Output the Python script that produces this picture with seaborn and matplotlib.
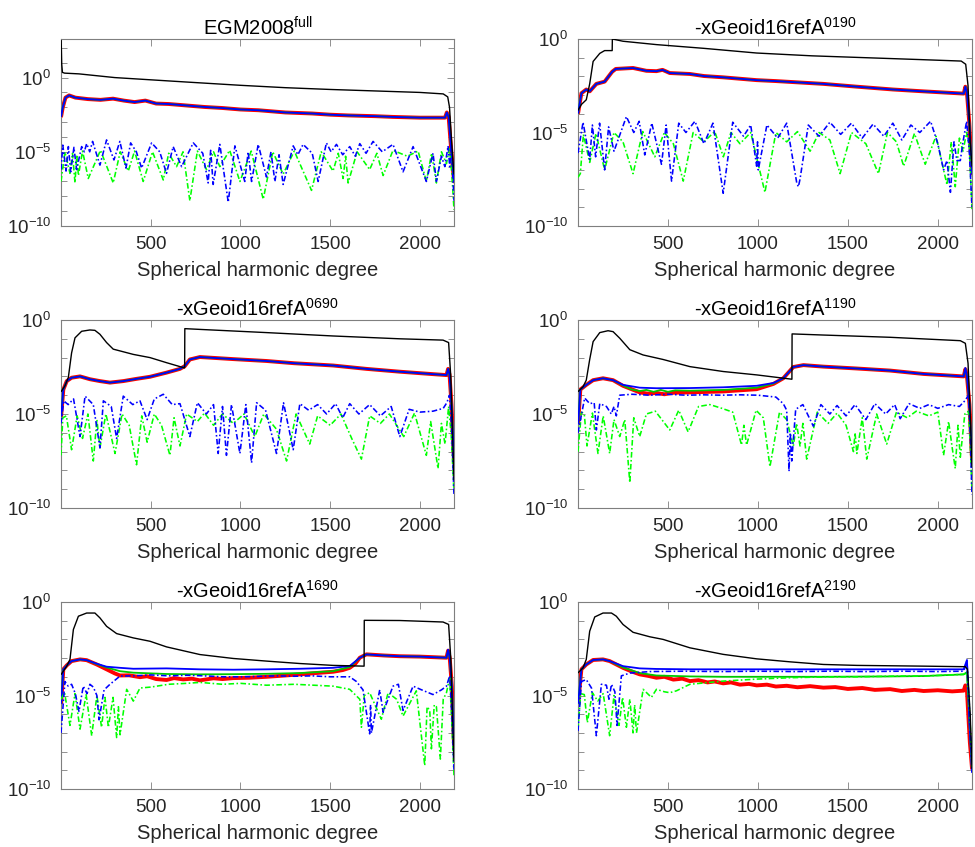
import numpy as np
import matplotlib
matplotlib.use("Agg")
import matplotlib.pyplot as plt
import matplotlib.ticker as mticker
import seaborn as sns

sns.set_style("ticks")
plt.rcParams.update({'font.size': 13})
plt.rcParams['font.family'] = ['Liberation Sans', 'DejaVu Sans']
plt.rcParams['mathtext.fontset'] = 'custom'
plt.rcParams['mathtext.rm'] = 'Liberation Sans'
plt.rcParams['mathtext.it'] = 'Liberation Sans:italic'
plt.rcParams['mathtext.bf'] = 'Liberation Sans:bold'

# (degree, log10 of amplitude)
titles = [r'EGM2008$^{\mathrm{full}}$',
          r'-xGeoid16refA$^{\mathrm{0190}}$',
          r'-xGeoid16refA$^{\mathrm{0690}}$',
          r'-xGeoid16refA$^{\mathrm{1190}}$',
          r'-xGeoid16refA$^{\mathrm{1690}}$',
          r'-xGeoid16refA$^{\mathrm{2190}}$']
x_ticks = [500, 1000, 1500, 2000]
y_ticks = [1e-10, 1e-5, 1e0]
y_top = [10 ** 2.6, 1, 1, 1, 1, 1]

# ---- panel 1: EGM2008 full
p1_black = [(1, 2.5), (4, 0.9), (8, 0.35), (20, 0.3), (100, 0.25), (300, 0.0), (500, -0.15), (700, -0.3),
            (1000, -0.52), (1250, -0.68), (1500, -0.8), (1750, -0.9), (2000, -1.0), (2130, -1.1),
            (2155, -1.3), (2165, -2.0), (2175, -4.0), (2185, -5.8), (2190, -6.5)]
p1_solid = [(1, -2.6), (10, -2.0), (25, -1.35), (45, -1.2), (80, -1.35), (150, -1.45), (220, -1.5),
            (290, -1.42), (350, -1.55), (410, -1.65), (470, -1.55), (530, -1.75), (600, -1.78),
            (700, -1.88), (800, -1.98), (900, -2.05), (1000, -2.15), (1100, -2.2), (1250, -2.35),
            (1400, -2.42), (1500, -2.5), (1600, -2.55), (1750, -2.6), (1850, -2.65), (2000, -2.7),
            (2140, -2.7), (2150, -2.35), (2160, -2.65), (2172, -4.5), (2190, -7.0)]
p1_blue_dd = [(0, -6.2), (10, -4.55), (28, -6.3), (41, -4.65), (54, -6.35), (72, -4.7), (87, -6.2), (115, -4.65),
              (130, -5.0), (143, -4.45), (160, -5.0), (176, -4.3), (217, -5.9), (254, -4.2), (295, -5.55),
              (328, -4.3), (362, -6.1), (388, -4.4), (420, -5.0), (449, -6.1), (505, -4.4), (550, -5.0),
              (588, -6.45), (625, -4.65), (672, -6.0), (737, -4.4), (790, -5.1), (820, -7.1), (834, -4.9),
              (848, -7.2), (885, -4.5), (932, -8.4), (969, -4.6), (1024, -7.0), (1043, -5.0), (1062, -7.0),
              (1099, -4.5), (1145, -6.7), (1170, -5.0), (1192, -7.0), (1215, -5.2), (1238, -7.2), (1294, -4.6),
              (1320, -5.2), (1349, -4.5), (1400, -5.1), (1433, -7.0), (1479, -4.4), (1505, -5.0), (1535, -4.5),
              (1570, -5.2), (1609, -4.65), (1640, -5.3), (1665, -4.45), (1700, -5.1), (1739, -4.3), (1790, -5.0),
              (1850, -4.5), (1906, -6.35), (1962, -4.65), (2036, -7.0), (2073, -5.1), (2092, -7.0), (2120, -5.3),
              (2139, -6.0), (2157, -4.6), (2166, -6.0), (2175, -4.5), (2190, -8.3)]
p1_green_dd = [(0, -7.0), (22, -5.0), (50, -6.45), (64, -5.1), (78, -7.1), (88, -5.2), (97, -6.6), (120, -4.95),
               (152, -6.8), (220, -4.9), (291, -7.1), (330, -5.0), (375, -6.3), (410, -4.95), (458, -7.0),
               (510, -5.0), (570, -6.9), (600, -5.1), (644, -6.0), (680, -5.0), (718, -8.3), (760, -4.95),
               (811, -6.2), (850, -5.0), (885, -6.0), (940, -4.9), (997, -7.0), (1060, -4.95), (1127, -8.2),
               (1180, -5.0), (1238, -6.5), (1300, -4.95), (1396, -7.6), (1450, -5.0), (1516, -6.3), (1545, -5.1),
               (1572, -6.8), (1586, -5.3), (1600, -7.1), (1650, -5.0), (1720, -6.2), (1760, -5.1), (1795, -6.6),
               (1850, -4.9), (1930, -5.3), (1990, -4.95), (2036, -7.0), (2065, -5.1), (2092, -7.1), (2120, -5.0),
               (2148, -5.8), (2165, -4.7), (2178, -6.5), (2190, -8.9)]

# ---- panel 2: -xGeoid16refA 0190
p2_black = [(1, -3.8), (19, -3.5), (46, -3.25), (65, -2.4), (84, -1.2), (121, -0.77), (148, -0.62), (190, -0.62),
            (191, 0.0), (250, -0.12), (436, -0.3), (700, -0.5), (993, -0.75), (1300, -0.9), (1600, -1.0),
            (1900, -1.1), (2130, -1.18), (2155, -1.35), (2168, -2.5), (2180, -5.5), (2190, -6.8)]
p2_solid = [(1, -3.95), (19, -2.9), (46, -2.7), (65, -2.8), (102, -2.4), (148, -2.28), (190, -1.75), (210, -1.6),
            (306, -1.55), (380, -1.7), (436, -1.72), (470, -1.65), (510, -1.82), (622, -1.87), (700, -1.98),
            (807, -2.05), (993, -2.2), (1100, -2.25), (1364, -2.4), (1550, -2.55), (1750, -2.7), (1921, -2.8),
            (2144, -2.92), (2153, -2.55), (2162, -2.9), (2175, -4.5), (2190, -7.2)]
p2_blue_dd = [(0, -6.1), (28, -4.45), (65, -6.45), (80, -4.6), (98, -6.3), (120, -4.5), (148, -7.0), (170, -4.7),
              (200, -6.0), (269, -4.15), (310, -5.0), (340, -4.4), (371, -6.2), (410, -4.5), (464, -6.7),
              (490, -4.6), (520, -7.6), (560, -4.5), (600, -5.0), (650, -4.4), (700, -5.6), (750, -4.5),
              (807, -8.25), (860, -4.45), (920, -5.2), (960, -4.6), (993, -6.8), (998, -5.5), (1002, -7.0),
              (1050, -4.6), (1110, -5.3), (1160, -4.5), (1216, -7.7), (1225, -7.9), (1234, -7.5), (1280, -4.6),
              (1340, -5.2), (1400, -4.45), (1460, -5.1), (1520, -4.5), (1580, -5.3), (1640, -4.55), (1700, -5.2),
              (1750, -4.5), (1800, -5.4), (1850, -4.6), (1900, -5.0), (1960, -4.4), (2000, -5.6), (2032, -7.0),
              (2051, -6.5), (2070, -8.2), (2090, -5.5), (2106, -6.5), (2125, -6.5), (2140, -5.5), (2160, -4.4),
              (2175, -6.0), (2190, -9.0)]
p2_green_dd = [(0, -7.4), (13, -7.2), (30, -5.1), (65, -6.6), (100, -5.05), (148, -7.0), (200, -5.0), (250, -5.5),
               (306, -7.2), (360, -4.95), (427, -6.3), (480, -5.0), (530, -5.6), (585, -7.6), (640, -5.0),
               (700, -5.5), (760, -4.95), (808, -6.3), (850, -5.0), (900, -5.6), (960, -5.0), (1039, -8.2),
               (1100, -5.0), (1160, -5.5), (1220, -4.95), (1290, -6.0), (1340, -5.0), (1400, -5.4), (1457, -7.2),
               (1520, -5.0), (1600, -5.6), (1670, -7.2), (1720, -5.0), (1770, -5.5), (1810, -6.8), (1870, -5.05),
               (1930, -6.7), (1990, -5.2), (2051, -7.8), (2075, -5.5), (2097, -7.9), (2120, -5.3), (2140, -6.0),
               (2160, -5.0), (2175, -5.8), (2190, -9.1)]

# ---- panel 3: -xGeoid16refA 0690
p3_black = [(1, -3.8), (22, -3.5), (41, -3.05), (59, -1.75), (78, -0.95), (115, -0.6), (161, -0.53), (189, -0.55),
            (217, -0.76), (254, -1.2), (291, -1.55), (403, -1.83), (496, -2.0), (588, -2.27), (663, -2.48),
            (689, -2.55), (690, -0.46), (774, -0.5), (1145, -0.67), (1516, -0.85), (1888, -1.0), (2129, -1.07),
            (2160, -1.2), (2172, -3.0), (2190, -8.5)]
p3_solid = [(1, -5.1), (13, -3.7), (32, -3.25), (59, -3.07), (106, -3.0), (161, -3.15), (217, -3.25), (273, -3.33),
            (347, -3.25), (421, -3.13), (496, -3.02), (588, -2.8), (663, -2.6), (690, -2.45), (718, -2.1),
            (774, -1.97), (960, -2.08), (1145, -2.18), (1300, -2.3), (1516, -2.42), (1702, -2.6), (1888, -2.75),
            (2073, -2.88), (2148, -2.93), (2157, -2.6), (2165, -2.9), (2176, -4.5), (2190, -7.4)]
p3_blue_dd = [(0, -5.5), (15, -4.3), (40, -4.5), (70, -4.2), (106, -6.2), (134, -4.05), (180, -4.5), (217, -6.8),
              (236, -4.3), (280, -4.6), (310, -6.3), (347, -4.05), (400, -4.5), (440, -4.3), (480, -5.3),
              (520, -4.2), (570, -3.95), (620, -4.5), (663, -4.45), (718, -6.2), (760, -4.4), (810, -5.0),
              (850, -4.5), (876, -7.1), (900, -4.6), (922, -7.2), (950, -4.5), (997, -7.1), (1030, -4.5),
              (1062, -7.6), (1090, -4.4), (1140, -4.8), (1201, -7.1), (1240, -4.4), (1294, -6.9), (1331, -4.45),
              (1380, -4.8), (1430, -4.5), (1480, -5.0), (1530, -4.45), (1570, -5.2), (1609, -4.45), (1660, -5.0),
              (1720, -4.5), (1780, -5.1), (1840, -4.6), (1888, -6.2), (1940, -4.75), (2000, -4.9), (2073, -4.85),
              (2130, -4.7), (2150, -4.4), (2165, -4.0), (2178, -6.0), (2190, -9.3)]
p3_green_dd = [(0, -7.2), (10, -5.2), (30, -5.1), (59, -6.9), (90, -5.1), (120, -6.3), (150, -5.0), (180, -7.5),
               (200, -5.3), (217, -6.8), (250, -5.0), (275, -6.0), (301, -7.1), (340, -5.0), (380, -5.6),
               (421, -7.7), (450, -5.1), (480, -6.5), (520, -5.0), (560, -5.6), (607, -7.2), (630, -5.2),
               (663, -6.7), (700, -5.0), (760, -5.4), (800, -4.95), (850, -5.6), (900, -5.0), (960, -5.5),
               (1020, -5.0), (1080, -6.2), (1130, -5.0), (1200, -5.8), (1257, -7.5), (1310, -5.0), (1386, -6.6),
               (1430, -5.1), (1500, -5.6), (1560, -5.0), (1620, -6.3), (1674, -7.4), (1720, -5.1), (1780, -5.5),
               (1830, -5.0), (1910, -6.2), (1970, -4.95), (2036, -7.2), (2060, -5.4), (2101, -7.9), (2120, -5.5),
               (2140, -6.6), (2160, -4.6), (2175, -6.2), (2190, -9.2)]

# ---- panel 4: -xGeoid16refA 1190
p4_black = [(1, -3.8), (28, -3.55), (46, -3.2), (65, -2.1), (84, -1.15), (121, -0.67), (167, -0.57), (195, -0.62),
            (232, -0.97), (288, -1.58), (362, -1.86), (473, -2.1), (622, -2.48), (807, -2.74), (993, -2.92),
            (1189, -3.15), (1190, -0.74), (1364, -0.8), (1735, -0.92), (2125, -1.1), (2153, -1.24),
            (2168, -2.3), (2180, -5.0), (2190, -7.8)]
p4_red = [(1, -5.5), (13, -3.7), (46, -3.45), (84, -3.2), (139, -3.1), (195, -3.2), (250, -3.5), (343, -3.85),
          (390, -3.92), (436, -3.88), (480, -3.95), (530, -3.87), (622, -3.85), (807, -3.8), (993, -3.68),
          (1086, -3.4), (1141, -3.1), (1197, -2.5), (1253, -2.4), (1364, -2.48), (1550, -2.58), (1735, -2.69),
          (1921, -2.87), (2144, -3.0), (2153, -2.62), (2162, -3.0), (2176, -4.5), (2190, -7.4)]
p4_blue = [(1, -5.5), (13, -3.7), (46, -3.45), (84, -3.2), (139, -3.1), (195, -3.2), (250, -3.45), (343, -3.6),
           (436, -3.63), (622, -3.62), (807, -3.58), (993, -3.5), (1086, -3.35), (1141, -3.1), (1197, -2.5),
           (1253, -2.4), (1364, -2.48), (1550, -2.58), (1735, -2.69), (1921, -2.87), (2144, -3.0), (2153, -2.55),
           (2162, -3.0), (2176, -4.5), (2190, -7.6)]
p4_green = [(1, -5.5), (13, -3.7), (46, -3.45), (84, -3.2), (139, -3.1), (195, -3.2), (250, -3.48), (300, -3.7),
            (343, -3.78), (380, -3.72), (420, -3.82), (460, -3.72), (500, -3.82), (540, -3.74), (622, -3.76),
            (807, -3.72), (993, -3.6), (1086, -3.38), (1141, -3.1), (1197, -2.5), (1253, -2.4), (1364, -2.48),
            (1550, -2.58), (1735, -2.69), (1921, -2.87), (2144, -3.0), (2153, -2.6), (2162, -3.0), (2176, -4.5),
            (2190, -7.5)]
p4_blue_dd = [(0, -6.0), (37, -4.15), (65, -4.45), (90, -4.4), (102, -5.85), (121, -4.45), (158, -4.6), (185, -5.0),
              (200, -4.6), (213, -5.1), (232, -4.0), (300, -3.95), (400, -4.0), (500, -3.95), (600, -4.0),
              (700, -3.98), (800, -4.0), (900, -3.98), (1000, -4.0), (1100, -4.1), (1141, -4.45), (1160, -4.8),
              (1173, -8.05), (1180, -6.0), (1188, -7.5), (1210, -4.75), (1250, -4.5), (1308, -5.65), (1350, -4.5),
              (1400, -5.0), (1440, -4.55), (1490, -5.1), (1540, -4.5), (1600, -5.3), (1650, -4.45), (1710, -5.0),
              (1760, -4.5), (1791, -5.25), (1840, -4.45), (1900, -4.7), (1950, -4.5), (2000, -4.7), (2060, -4.5),
              (2120, -4.6), (2150, -4.3), (2171, -4.0), (2180, -6.0), (2190, -9.3)]
p4_green_dd = [(0, -7.0), (19, -4.9), (35, -5.0), (50, -6.7), (80, -4.95), (111, -7.1), (140, -5.1), (176, -7.1),
               (200, -5.3), (232, -6.2), (260, -5.3), (288, -8.65), (310, -5.2), (343, -6.2), (380, -5.0),
               (430, -4.85), (510, -5.85), (560, -4.8), (612, -5.95), (670, -4.6), (733, -4.5), (800, -4.7),
               (860, -4.9), (909, -6.65), (922, -5.6), (937, -6.65), (990, -4.8), (1030, -5.2), (1067, -7.8),
               (1120, -4.9), (1160, -5.3), (1197, -6.7), (1215, -5.5), (1234, -6.7), (1250, -5.5), (1271, -7.4),
               (1330, -4.9), (1390, -5.5), (1440, -4.95), (1490, -5.6), (1531, -7.0), (1540, -6.0), (1550, -7.1),
               (1580, -5.2), (1605, -7.4), (1660, -5.0), (1716, -6.6), (1770, -4.9), (1830, -5.2), (1880, -4.85),
               (1950, -5.1), (2000, -4.9), (2032, -7.2), (2060, -5.4), (2080, -6.8), (2097, -7.9), (2112, -5.6),
               (2125, -7.3), (2150, -5.0), (2170, -4.85), (2180, -6.5), (2190, -9.2)]

# ---- panel 5: -xGeoid16refA 1690
p5_black = [(1, -3.87), (32, -3.43), (50, -3.07), (69, -1.47), (97, -0.76), (143, -0.59), (189, -0.59),
            (217, -0.85), (254, -1.3), (310, -1.69), (403, -1.92), (496, -2.1), (588, -2.4), (774, -2.81),
            (960, -3.02), (1145, -3.16), (1331, -3.29), (1516, -3.39), (1689, -3.43), (1690, -0.98),
            (1888, -0.99), (2129, -1.07), (2160, -1.2), (2172, -3.0), (2190, -8.5)]
p5_red = [(1, -5.4), (13, -3.6), (32, -3.39), (59, -3.16), (106, -3.07), (143, -3.11), (199, -3.34), (254, -3.6),
          (300, -3.82), (329, -3.93), (380, -3.92), (440, -4.02), (480, -3.97), (530, -4.12), (588, -4.17),
          (630, -4.07), (681, -4.14), (730, -4.1), (774, -4.19), (850, -4.08), (900, -4.12), (960, -4.07),
          (1050, -4.05), (1145, -4.0), (1250, -3.93), (1331, -3.87), (1420, -3.8), (1516, -3.73), (1570, -3.64),
          (1609, -3.52), (1640, -3.3), (1665, -2.98), (1702, -2.8), (1800, -2.86), (1888, -2.9), (2000, -2.92),
          (2148, -2.98), (2157, -2.6), (2166, -2.98), (2178, -4.5), (2190, -7.6)]
p5_blue = [(1, -5.4), (13, -3.6), (32, -3.39), (59, -3.16), (106, -3.07), (143, -3.11), (199, -3.3), (254, -3.46),
           (329, -3.52), (403, -3.57), (588, -3.55), (774, -3.6), (960, -3.62), (1145, -3.6), (1331, -3.57),
           (1516, -3.52), (1609, -3.42), (1665, -2.98), (1702, -2.8), (1800, -2.86), (1888, -2.9), (2000, -2.92),
           (2148, -2.98), (2157, -2.55), (2166, -2.98), (2178, -4.5), (2190, -7.8)]
p5_green = [(1, -5.4), (13, -3.6), (32, -3.39), (59, -3.16), (106, -3.07), (143, -3.11), (199, -3.32), (254, -3.5),
            (329, -3.7), (403, -3.78), (588, -3.85), (774, -3.87), (960, -3.86), (1145, -3.84), (1331, -3.8),
            (1516, -3.7), (1609, -3.48), (1665, -2.98), (1702, -2.8), (1800, -2.86), (1888, -2.9), (2000, -2.92),
            (2148, -2.98), (2157, -2.6), (2166, -2.98), (2178, -4.5), (2190, -7.7)]
p5_blue_dd = [(0, -7.0), (22, -4.25), (40, -4.5), (59, -4.4), (80, -4.9), (100, -5.85), (124, -4.5), (145, -4.9),
              (161, -4.4), (180, -4.55), (200, -5.0), (212, -6.3), (240, -4.7), (273, -4.4), (329, -3.96),
              (400, -3.95), (500, -3.9), (600, -3.95), (700, -3.92), (800, -3.95), (900, -4.0), (1000, -4.0),
              (1100, -3.98), (1200, -3.95), (1300, -3.97), (1400, -3.95), (1500, -4.0), (1609, -4.0), (1646, -4.25),
              (1683, -4.7), (1720, -7.05), (1725, -5.5), (1730, -7.0), (1776, -4.7), (1795, -5.9), (1850, -4.5),
              (1880, -4.4), (1906, -5.8), (1962, -4.5), (2010, -4.7), (2073, -4.95), (2120, -4.7), (2148, -4.5),
              (2166, -3.95), (2178, -6.0), (2190, -9.0)]
p5_green_dd = [(0, -5.2), (20, -4.85), (50, -6.6), (78, -4.9), (106, -6.8), (140, -4.95), (171, -7.15), (200, -5.0),
               (226, -6.7), (245, -5.1), (264, -6.7), (290, -5.1), (310, -7.25), (320, -5.6), (329, -7.1),
               (366, -4.67), (403, -5.3), (440, -4.6), (500, -4.55), (600, -4.4), (700, -4.35), (774, -4.3),
               (900, -4.4), (1000, -4.35), (1145, -4.45), (1300, -4.4), (1516, -4.5), (1609, -4.67), (1665, -5.2),
               (1674, -6.7), (1690, -5.0), (1720, -4.85), (1785, -6.27), (1823, -4.85), (1870, -5.2), (1906, -6.1),
               (1980, -4.75), (2027, -8.75), (2040, -5.6), (2055, -5.8), (2064, -7.85), (2080, -5.5), (2092, -5.6),
               (2114, -8.4), (2130, -5.2), (2148, -4.85), (2166, -4.05), (2178, -6.5), (2190, -9.3)]

# ---- panel 6: -xGeoid16refA 2190
p6_black = [(1, -3.78), (28, -3.52), (46, -3.07), (65, -1.56), (93, -0.8), (139, -0.59), (186, -0.59), (213, -0.76),
            (250, -1.2), (306, -1.62), (399, -1.86), (473, -2.0), (622, -2.45), (807, -2.8), (993, -3.04),
            (1179, -3.2), (1364, -3.34), (1550, -3.39), (1921, -3.43), (2153, -3.46), (2165, -3.6), (2180, -6.0),
            (2190, -8.9)]
p6_red = [(1, -5.4), (19, -3.6), (46, -3.34), (84, -3.1), (139, -3.07), (176, -3.16), (250, -3.52), (300, -3.72),
          (343, -3.87), (390, -3.95), (436, -4.05), (480, -4.0), (530, -4.15), (580, -4.1), (622, -4.23),
          (670, -4.18), (720, -4.3), (760, -4.25), (807, -4.35), (850, -4.3), (900, -4.42), (950, -4.38),
          (993, -4.46), (1050, -4.42), (1100, -4.52), (1160, -4.48), (1220, -4.56), (1290, -4.5), (1364, -4.58),
          (1430, -4.55), (1500, -4.65), (1580, -4.6), (1650, -4.7), (1735, -4.66), (1800, -4.76), (1870, -4.7),
          (1921, -4.76), (2000, -4.72), (2080, -4.78), (2144, -4.74), (2153, -4.46), (2162, -4.76), (2178, -7.5),
          (2190, -8.9)]
p6_blue = [(1, -5.4), (19, -3.6), (46, -3.34), (84, -3.1), (139, -3.07), (176, -3.16), (250, -3.43), (343, -3.55),
           (436, -3.58), (622, -3.6), (807, -3.6), (993, -3.6), (1364, -3.6), (1735, -3.6), (1921, -3.6),
           (2144, -3.6), (2162, -3.1), (2176, -6.5), (2190, -9.1)]
p6_green = [(1, -5.4), (19, -3.6), (46, -3.34), (84, -3.1), (139, -3.07), (176, -3.16), (250, -3.5), (343, -3.8),
            (436, -3.93), (622, -3.98), (807, -4.0), (993, -4.0), (1364, -4.0), (1735, -3.98), (1921, -3.96),
            (2144, -3.87), (2162, -3.75), (2176, -6.5), (2190, -9.0)]
p6_blue_dd = [(0, -6.9), (19, -4.25), (46, -4.15), (75, -4.6), (102, -7.15), (130, -4.4), (158, -4.45), (172, -5.2),
              (186, -4.4), (205, -4.8), (217, -6.6), (241, -3.95), (288, -3.8), (400, -3.72), (600, -3.7),
              (800, -3.72), (1000, -3.7), (1200, -3.72), (1400, -3.7), (1600, -3.72), (1800, -3.7), (2000, -3.72),
              (2144, -3.7), (2162, -3.15), (2175, -5.5), (2190, -9.1)]
p6_green_dd = [(0, -6.8), (15, -4.9), (35, -4.95), (52, -6.45), (80, -4.85), (110, -5.3), (140, -4.9), (176, -7.15),
               (200, -5.0), (228, -6.6), (248, -5.1), (269, -6.7), (288, -5.2), (306, -7.0), (315, -5.5),
               (325, -7.0), (362, -4.67), (408, -5.1), (436, -4.67), (480, -4.8), (510, -4.85), (547, -4.75),
               (622, -4.4), (807, -4.23), (1000, -4.12), (1179, -4.05), (1400, -4.0), (1550, -4.0), (1800, -3.96),
               (1921, -3.96), (2144, -3.87), (2162, -3.78), (2178, -6.0), (2190, -8.9)]

panels = [
    (p1_black, p1_solid, p1_solid, p1_solid, p1_blue_dd, p1_green_dd),
    (p2_black, p2_solid, p2_solid, p2_solid, p2_blue_dd, p2_green_dd),
    (p3_black, p3_solid, p3_solid, p3_solid, p3_blue_dd, p3_green_dd),
    (p4_black, p4_red, p4_blue, p4_green, p4_blue_dd, p4_green_dd),
    (p5_black, p5_red, p5_blue, p5_green, p5_blue_dd, p5_green_dd),
    (p6_black, p6_red, p6_blue, p6_green, p6_blue_dd, p6_green_dd),
]

# axes boxes in pixels (left, top, right, bottom) on a 975x847 canvas
W, H = 975, 847
boxes = [(61, 39, 454, 226), (578, 39, 972, 226),
         (61, 320, 454, 508), (578, 320, 972, 508),
         (61, 602, 454, 789), (578, 602, 972, 789)]

dashdot = (0, (3.5, 1.5, 1, 1.5))
edge = '#7f7f7f'
txt = '#262626'


def draw(ax, pts, color, lw, ls, z):
    d = np.array(pts, dtype=float)
    sns.lineplot(x=d[:, 0], y=10 ** d[:, 1], ax=ax, color=color, linewidth=lw,
                 linestyle=ls, estimator=None, sort=False, zorder=z)


fig = plt.figure(figsize=(W / 100, H / 100), dpi=100)
for i, (black, red, blue, green, blue_dd, green_dd) in enumerate(panels):
    l, t, r, b = boxes[i]
    ax = fig.add_axes([l / W, 1 - b / H, (r - l) / W, (b - t) / H])
    ax.set_yscale('log')
    draw(ax, red, '#ff0000', 2.8, '-', 2)
    draw(ax, green, '#00c800', 1.3, '-', 3)
    draw(ax, blue, '#0000ff', 1.3, '-', 4)
    draw(ax, green_dd, '#00ff00', 1.15, dashdot, 5)
    draw(ax, blue_dd, '#0000ff', 1.15, dashdot, 6)
    draw(ax, black, '#000000', 1.0, '-', 7)

    ax.set_xlim(0, 2190)
    ax.set_ylim(1e-10, y_top[i])
    ax.set_xticks(x_ticks)
    ax.yaxis.set_major_locator(mticker.FixedLocator(y_ticks))
    ax.yaxis.set_major_formatter(mticker.LogFormatterSciNotation())
    ax.yaxis.set_minor_locator(mticker.LogLocator(base=10, subs=[1.0], numticks=30))
    ax.yaxis.set_minor_formatter(mticker.NullFormatter())
    ax.xaxis.set_minor_locator(mticker.NullLocator())
    ax.tick_params(which='both', direction='in', top=True, right=True, color=edge,
                   labelcolor=txt, labelsize=13.5, width=0.6)
    ax.tick_params(which='major', length=5, pad=7)
    ax.tick_params(which='minor', length=4)
    for s in ax.spines.values():
        s.set_color(edge)
        s.set_linewidth(0.8)
    ax.set_title(titles[i], fontsize=14.5, color='black', pad=-3.5)
    ax.set_xlabel('Spherical harmonic degree', fontsize=14.5, color=txt, labelpad=6)
    ax.set_ylabel('')

plt.savefig('out.png', dpi=100)
